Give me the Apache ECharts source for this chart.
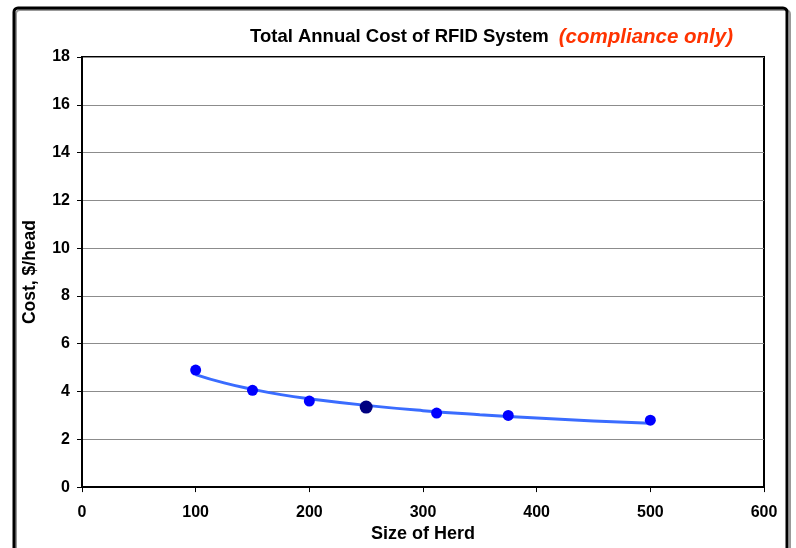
<!DOCTYPE html>
<html>
<head>
<meta charset="utf-8">
<script src="https://cdn.jsdelivr.net/npm/echarts@6/dist/echarts.min.js"></script>
<style>html,body{margin:0;padding:0;background:#fff}#c{width:796px;height:548px}</style>
</head>
<body>
<div id="c"></div>
<script>
// Observed data points (herd size, $/head)
const herdSizes = [100, 150, 200, 250, 312, 375, 500];
const costs = [4.9, 4.05, 3.6, 3.35, 3.1, 3.0, 2.8];
// Trend line
const trendX = [100, 125, 150, 175, 200, 250, 300, 350, 400, 450, 500];
const trendY = [4.71, 4.36, 4.09, 3.87, 3.70, 3.42, 3.20, 3.03, 2.89, 2.77, 2.67];
const highlightIndex = 3;
const yTicks = [0, 2, 4, 6, 8, 10, 12, 14, 16, 18];
const xTicks = [0, 100, 200, 300, 400, 500, 600];

const FONT = "'Liberation Sans', Arial, sans-serif";
const chart = echarts.init(document.getElementById('c'));
chart.setOption({
  animation: false,
  backgroundColor: '#fff',
  title: {
    text: '{a|Total Annual Cost of RFID System}{b|(compliance only)}',
    left: 245, top: 22,
    textStyle: {
      rich: {
        a: {fontFamily: FONT, fontWeight: 'bold', fontSize: 18.5, color: '#000'},
        b: {fontFamily: FONT, fontWeight: 'bold', fontStyle: 'italic', fontSize: 20.5, color: '#FF3300', padding: [0, 0, 0, 10]}
      }
    }
  },
  graphic: [
    {type: 'rect', shape: {x: 16, y: 10, width: 774, height: 580, r: 4}, style: {fill: null, stroke: '#999', lineWidth: 2}, z: 0},
    {type: 'rect', shape: {x: 14, y: 8, width: 773, height: 580, r: 4}, style: {fill: null, stroke: '#000', lineWidth: 3}, z: 1}
  ],
  grid: {left: 82, right: 32, top: 57, bottom: 58, show: true, borderColor: '#000', borderWidth: 2, backgroundColor: 'transparent'},
  xAxis: {
    type: 'value', min: xTicks[0], max: xTicks[xTicks.length - 1], interval: 100,
    name: 'Size of Herd', nameLocation: 'middle', nameGap: 35,
    nameTextStyle: {fontFamily: FONT, fontWeight: 'bold', fontSize: 18, color: '#000'},
    axisLine: {show: true, lineStyle: {color: '#000', width: 2}},
    axisTick: {show: true, length: 5, lineStyle: {color: '#000'}},
    axisLabel: {fontFamily: FONT, fontWeight: 'bold', fontSize: 16, color: '#000', margin: 17},
    splitLine: {show: false}
  },
  yAxis: {
    type: 'value', min: yTicks[0], max: yTicks[yTicks.length - 1], interval: 2,
    name: 'Cost, $/head', nameLocation: 'middle', nameGap: 43, nameRotate: 90,
    nameTextStyle: {fontFamily: FONT, fontWeight: 'bold', fontSize: 17.5, color: '#000'},
    axisLine: {show: true, lineStyle: {color: '#000', width: 2}},
    axisTick: {show: true, length: 5, lineStyle: {color: '#000'}},
    axisLabel: {fontFamily: FONT, fontWeight: 'bold', fontSize: 16, color: '#000', margin: 12},
    splitLine: {show: true, lineStyle: {color: '#8c8c8c', width: 1}}
  },
  series: [
    {
      type: 'line', data: trendX.map((x, i) => [x, trendY[i]]), smooth: true, showSymbol: false,
      lineStyle: {color: '#3a6cff', width: 3}, z: 2, silent: true
    },
    {
      type: 'scatter',
      data: herdSizes.map((x, i) => ({
        value: [x, costs[i]],
        symbolSize: i === highlightIndex ? 13 : 11,
        itemStyle: {color: i === highlightIndex ? '#000080' : '#0000FF', opacity: 1}
      })),
      z: 3
    }
  ]
});
</script>
</body>
</html>
